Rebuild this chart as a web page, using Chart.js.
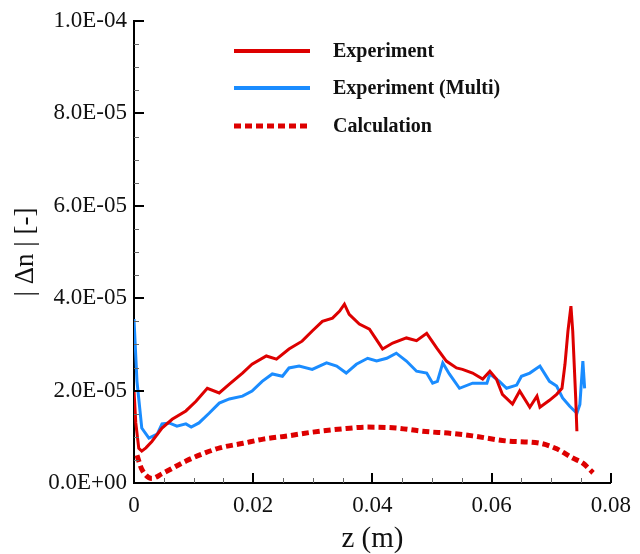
<!DOCTYPE html>
<html>
<head>
<meta charset="utf-8">
<script src="https://cdn.jsdelivr.net/npm/chart.js@4"></script>
<style>
body{margin:0;background:#fff;}
#box{width:640px;height:554px;}
</style>
</head>
<body>
<div id="box"><canvas id="myChart"></canvas></div>
<script>
// z in m, |dn| in units of 1E-05
const expZ=[0,0.0003,0.0008,0.0013,0.002,0.003,0.0047,0.0064,0.0087,0.0104,0.0123,0.0143,0.016,0.0182,0.0198,0.0222,0.0239,0.026,0.0282,0.0299,0.0316,0.0333,0.0345,0.0353,0.0361,0.0378,0.0395,0.0412,0.0417,0.0434,0.0457,0.0474,0.0491,0.0508,0.0524,0.0541,0.0551,0.0568,0.0585,0.0597,0.0608,0.0618,0.0635,0.0647,0.0664,0.0676,0.0681,0.0697,0.0709,0.0718,0.0723,0.0728,0.0733,0.0736,0.0741,0.0743];
const expDn=[2.0,1.3,0.75,0.69,0.76,0.9,1.19,1.38,1.56,1.77,2.05,1.95,2.14,2.38,2.57,2.75,2.68,2.9,3.07,3.29,3.5,3.57,3.72,3.87,3.65,3.44,3.33,3.0,2.9,3.03,3.14,3.08,3.24,2.92,2.64,2.49,2.46,2.38,2.25,2.42,2.25,1.92,1.71,1.99,1.64,1.88,1.64,1.79,1.92,2.05,2.57,3.29,3.83,3.29,1.84,1.12];

const multiZ=[0,0.0002,0.0005,0.0013,0.0025,0.0039,0.0047,0.0059,0.0072,0.0087,0.0096,0.0109,0.0126,0.0143,0.016,0.0182,0.0198,0.0215,0.0232,0.0249,0.026,0.0277,0.0299,0.0323,0.034,0.0356,0.0373,0.0392,0.0407,0.0424,0.044,0.0457,0.0474,0.0491,0.0501,0.0509,0.0518,0.0529,0.0546,0.0568,0.0592,0.0597,0.0613,0.0625,0.0642,0.065,0.0664,0.0681,0.0697,0.0709,0.0719,0.0731,0.0743,0.0748,0.0753,0.0756];
const multiDn=[3.55,3.0,2.2,1.19,0.97,1.06,1.28,1.3,1.23,1.28,1.21,1.3,1.51,1.73,1.82,1.88,1.99,2.2,2.36,2.31,2.49,2.53,2.46,2.6,2.53,2.38,2.57,2.7,2.64,2.7,2.81,2.64,2.42,2.38,2.16,2.2,2.6,2.36,2.05,2.16,2.16,2.36,2.2,2.05,2.12,2.31,2.38,2.53,2.2,2.1,1.84,1.66,1.51,1.7,2.64,2.05];

const calcZ=[0.0005,0.0013,0.003,0.0047,0.0088,0.0115,0.0144,0.0183,0.0217,0.0258,0.0299,0.0356,0.0392,0.044,0.0484,0.0535,0.0568,0.0625,0.0681,0.0709,0.0736,0.0753,0.077];
const calcDn=[0.6,0.3,0.1,0.2,0.48,0.63,0.76,0.86,0.95,1.02,1.1,1.18,1.21,1.19,1.12,1.07,1.02,0.91,0.86,0.74,0.54,0.43,0.22];

const seriesNames=['Experiment','Experiment (Multi)','Calculation'];
const xTicks=[0,0.02,0.04,0.06,0.08];
const xTickLabels=['0','0.02','0.04','0.06','0.08'];
const yTicks=[0,2,4,6,8,10];
const yTickLabels=['0.0E+00','2.0E-05','4.0E-05','6.0E-05','8.0E-05','1.0E-04'];

const RED='#dd0000', BLUE='#1a8cff';
const FONT="'Liberation Serif','Times New Roman',serif";

const zip=(xs,ys)=>xs.map((x,i)=>({x:x,y:ys[i]}));

//ticks pointing into the plot + legend
const decorations={
  id:'decorations',
  afterDraw(chart){
    const ctx=chart.ctx;
    const xs=chart.scales.x, ys=chart.scales.y;
    const a=chart.chartArea;
    ctx.save();
    // minor ticks
    ctx.lineWidth=1;
    ctx.strokeStyle='#666';
    for(let i=0;i<=16;i++){
      const px=Math.round(xs.getPixelForValue(i*0.005))+0.5;
      ctx.beginPath();ctx.moveTo(px,a.bottom);ctx.lineTo(px,a.bottom-5);ctx.stroke();
    }
    for(let i=0;i<=20;i++){
      const py=Math.round(ys.getPixelForValue(i*0.5))+0.5;
      ctx.beginPath();ctx.moveTo(a.left,py);ctx.lineTo(a.left+5,py);ctx.stroke();
    }
    // major ticks
    ctx.lineWidth=2;
    ctx.strokeStyle='#000';
    xTicks.forEach(v=>{
      const px=Math.round(xs.getPixelForValue(v));
      ctx.beginPath();ctx.moveTo(px,a.bottom);ctx.lineTo(px,a.bottom-10);ctx.stroke();
    });
    yTicks.forEach(v=>{
      const py=Math.round(ys.getPixelForValue(v));
      ctx.beginPath();ctx.moveTo(a.left,py);ctx.lineTo(a.left+10,py);ctx.stroke();
    });

    // legend
    const rows=[51,88,126];
    chart.data.datasets.forEach((ds,i)=>{
      ctx.beginPath();
      ctx.strokeStyle=ds.borderColor;
      ctx.lineWidth=ds.borderDash.length? 5:4;
      ctx.setLineDash(ds.borderDash);
      ctx.lineCap='butt';
      ctx.moveTo(234,rows[i]);ctx.lineTo(310,rows[i]);ctx.stroke();
      ctx.setLineDash([]);
      ctx.fillStyle='#111';
      ctx.font='bold 20px '+FONT;
      ctx.textBaseline='middle';
      ctx.textAlign='left';
      ctx.fillText(ds.label,333,rows[i]+1);
    });
    ctx.restore();
  }
};

new Chart(document.getElementById('myChart'),{
  type:'line',
  data:{
    datasets:[{
      label:seriesNames[0],
      data:zip(expZ,expDn),
      borderColor:RED,
      borderWidth:3,
      borderDash:[],
      pointRadius:0,
      tension:0
    },{
      label:seriesNames[1],
      data:zip(multiZ,multiDn),
      borderColor:BLUE,
      borderWidth:3,
      borderDash:[],
      pointRadius:0,
      tension:0
    },{
      label:seriesNames[2],
      data:zip(calcZ,calcDn),
      borderColor:RED,
      borderWidth:5,
      borderDash:[7,4],
      borderCapStyle:'butt',
      pointRadius:0,
      cubicInterpolationMode:'monotone'
    }]
  },
  options:{
    responsive:true,
    maintainAspectRatio:false,
    animation:false,
    layout:{padding:{left:0,right:29,top:21,bottom:0}},
    plugins:{legend:{display:false},tooltip:{enabled:false}},
    scales:{
      x:{
        type:'linear',
        min:0,max:0.08,
        afterBuildTicks:s=>{s.ticks=xTicks.map(v=>({value:v}));},
        afterFit:s=>{s.height=71;},
        grid:{drawOnChartArea:false,drawTicks:false},
        border:{display:true,color:'#000',width:2},
        ticks:{
          padding:9,
          maxRotation:0,
          color:'#111',
          font:{family:FONT,size:23},
          callback:(v,i)=>xTickLabels[i]
        },
        title:{display:true,text:'z (m)',color:'#111',font:{family:FONT,size:29,lineHeight:1},padding:{top:0,bottom:0}}
      },
      y:{
        type:'linear',
        min:0,max:10,
        afterBuildTicks:s=>{s.ticks=yTicks.map(v=>({value:v}));},
        afterFit:s=>{s.width=134;},
        grid:{drawOnChartArea:false,drawTicks:false},
        border:{display:true,color:'#000',width:2},
        ticks:{
          padding:7,
          color:'#111',
          font:{family:FONT,size:23},
          callback:(v,i)=>yTickLabels[i]
        },
        title:{display:true,text:'| Δn | [-]',color:'#111',font:{family:FONT,size:27,lineHeight:1},padding:{top:12,bottom:0}}
      }
    }
  },
  plugins:[decorations]
});
</script>
</body>
</html>
